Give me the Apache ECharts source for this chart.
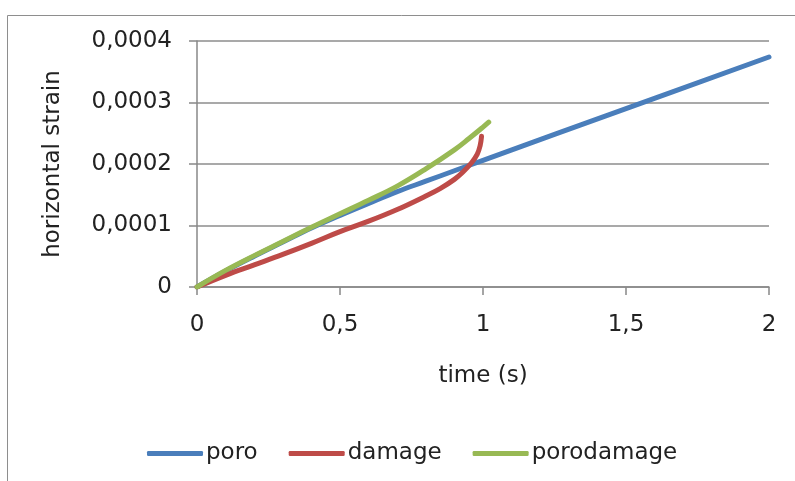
<!DOCTYPE html>
<html>
<head>
<meta charset="utf-8">
<script src="https://cdn.jsdelivr.net/npm/echarts@6/dist/echarts.min.js"></script>
<style>html,body{margin:0;padding:0;background:#fff}#c{width:795px;height:481px}</style>
</head>
<body>
<div id="c"></div>
<script>
var seriesNames = ['poro', 'damage', 'porodamage'];
var poroT = [0, 0.1, 0.2, 0.3, 0.4, 0.5, 0.6, 0.7, 0.8, 0.9, 1.0, 1.5, 2.0];
var poroV = [0, 0.000026, 0.00005, 0.000073, 0.000096, 0.0001165, 0.000136, 0.000155, 0.000172, 0.000189, 0.000206, 0.00029, 0.000374];
var damageT = [0, 0.1, 0.2, 0.3, 0.4, 0.5, 0.6, 0.7, 0.8, 0.85, 0.9, 0.93, 0.96, 0.98, 0.99, 0.995];
var damageV = [0, 0.000019, 0.000036, 0.000053, 0.000071, 0.00009, 0.000107, 0.000126, 0.000148, 0.00016, 0.000175, 0.000187, 0.000202, 0.000216, 0.00023, 0.000245];
var porodamageT = [0, 0.1, 0.2, 0.3, 0.4, 0.5, 0.6, 0.7, 0.8, 0.9, 0.95, 1.0, 1.02];
var porodamageV = [0, 0.000027, 0.000051, 0.000074, 0.000097, 0.000119, 0.000141, 0.000164, 0.000192, 0.000223, 0.000241, 0.00026, 0.000268];
var xTicks = [0, 0.5, 1, 1.5, 2];
var yTicks = [0, 0.0001, 0.0002, 0.0003, 0.0004];
var colors = ['#4A7EBB', '#BE4B48', '#98B954'];

function pairs(t, v) { return t.map(function (x, i) { return [x, v[i]]; }); }
var FONT = 'DejaVu Sans';
var chart = echarts.init(document.getElementById('c'), null, {renderer: 'canvas'});
var lineSeries = [[poroT, poroV], [damageT, damageV], [porodamageT, porodamageV]].map(function (d, i) {
  return {
    name: seriesNames[i], type: 'line', data: pairs(d[0], d[1]),
    smooth: 0.4, showSymbol: false, symbol: 'none',
    lineStyle: {color: colors[i], width: 5, cap: 'round', join: 'round'},
    itemStyle: {color: colors[i]}, z: 2 + (i === 1 ? 0 : i), animation: false
  };
});
chart.setOption({
  animation: false,
  color: colors,
  graphic: [{type: 'rect', shape: {x: 7.5, y: 15.5, width: 800, height: 480}, style: {fill: 'none', stroke: '#8e8e8e', lineWidth: 1}, silent: true}],
  grid: {left: 197, right: 26, top: 41, bottom: 194, containLabel: false},
  legend: {
    data: seriesNames, left: 142, top: 437, icon: 'roundRect', itemWidth: 56, itemHeight: 5, itemGap: 31,
    textStyle: {fontFamily: FONT, fontSize: 23, color: '#222', padding: [0, 0, 0, -2]}
  },
  xAxis: {
    type: 'value', min: 0, max: 2, interval: 0.5,
    name: 'time (s)', nameLocation: 'middle', nameGap: 78,
    nameTextStyle: {fontFamily: FONT, fontSize: 23, color: '#222'},
    axisLine: {show: true, lineStyle: {color: '#888', width: 1.5}},
    axisTick: {show: true, length: 8, lineStyle: {color: '#888', width: 1.5}},
    splitLine: {show: false},
    axisLabel: {margin: 27, fontFamily: FONT, fontSize: 23, color: '#222',
      formatter: function (v) { return String(v).replace('.', ','); }}
  },
  yAxis: {
    type: 'value', min: 0, max: 0.0004, interval: 0.0001,
    name: 'horizontal strain', nameLocation: 'middle', nameGap: 132, nameRotate: 90,
    nameTextStyle: {fontFamily: FONT, fontSize: 23, color: '#222'},
    axisLine: {show: true, lineStyle: {color: '#888', width: 1.5}},
    axisTick: {show: true, length: 8, lineStyle: {color: '#888', width: 1.5}},
    splitLine: {show: true, lineStyle: {color: '#8c8c8c', width: 1.5}},
    axisLabel: {margin: 25, fontFamily: FONT, fontSize: 23, color: '#222',
      formatter: function (v) { return v === 0 ? '0' : v.toFixed(4).replace('.', ','); }}
  },
  series: lineSeries
});
</script>
</body>
</html>
